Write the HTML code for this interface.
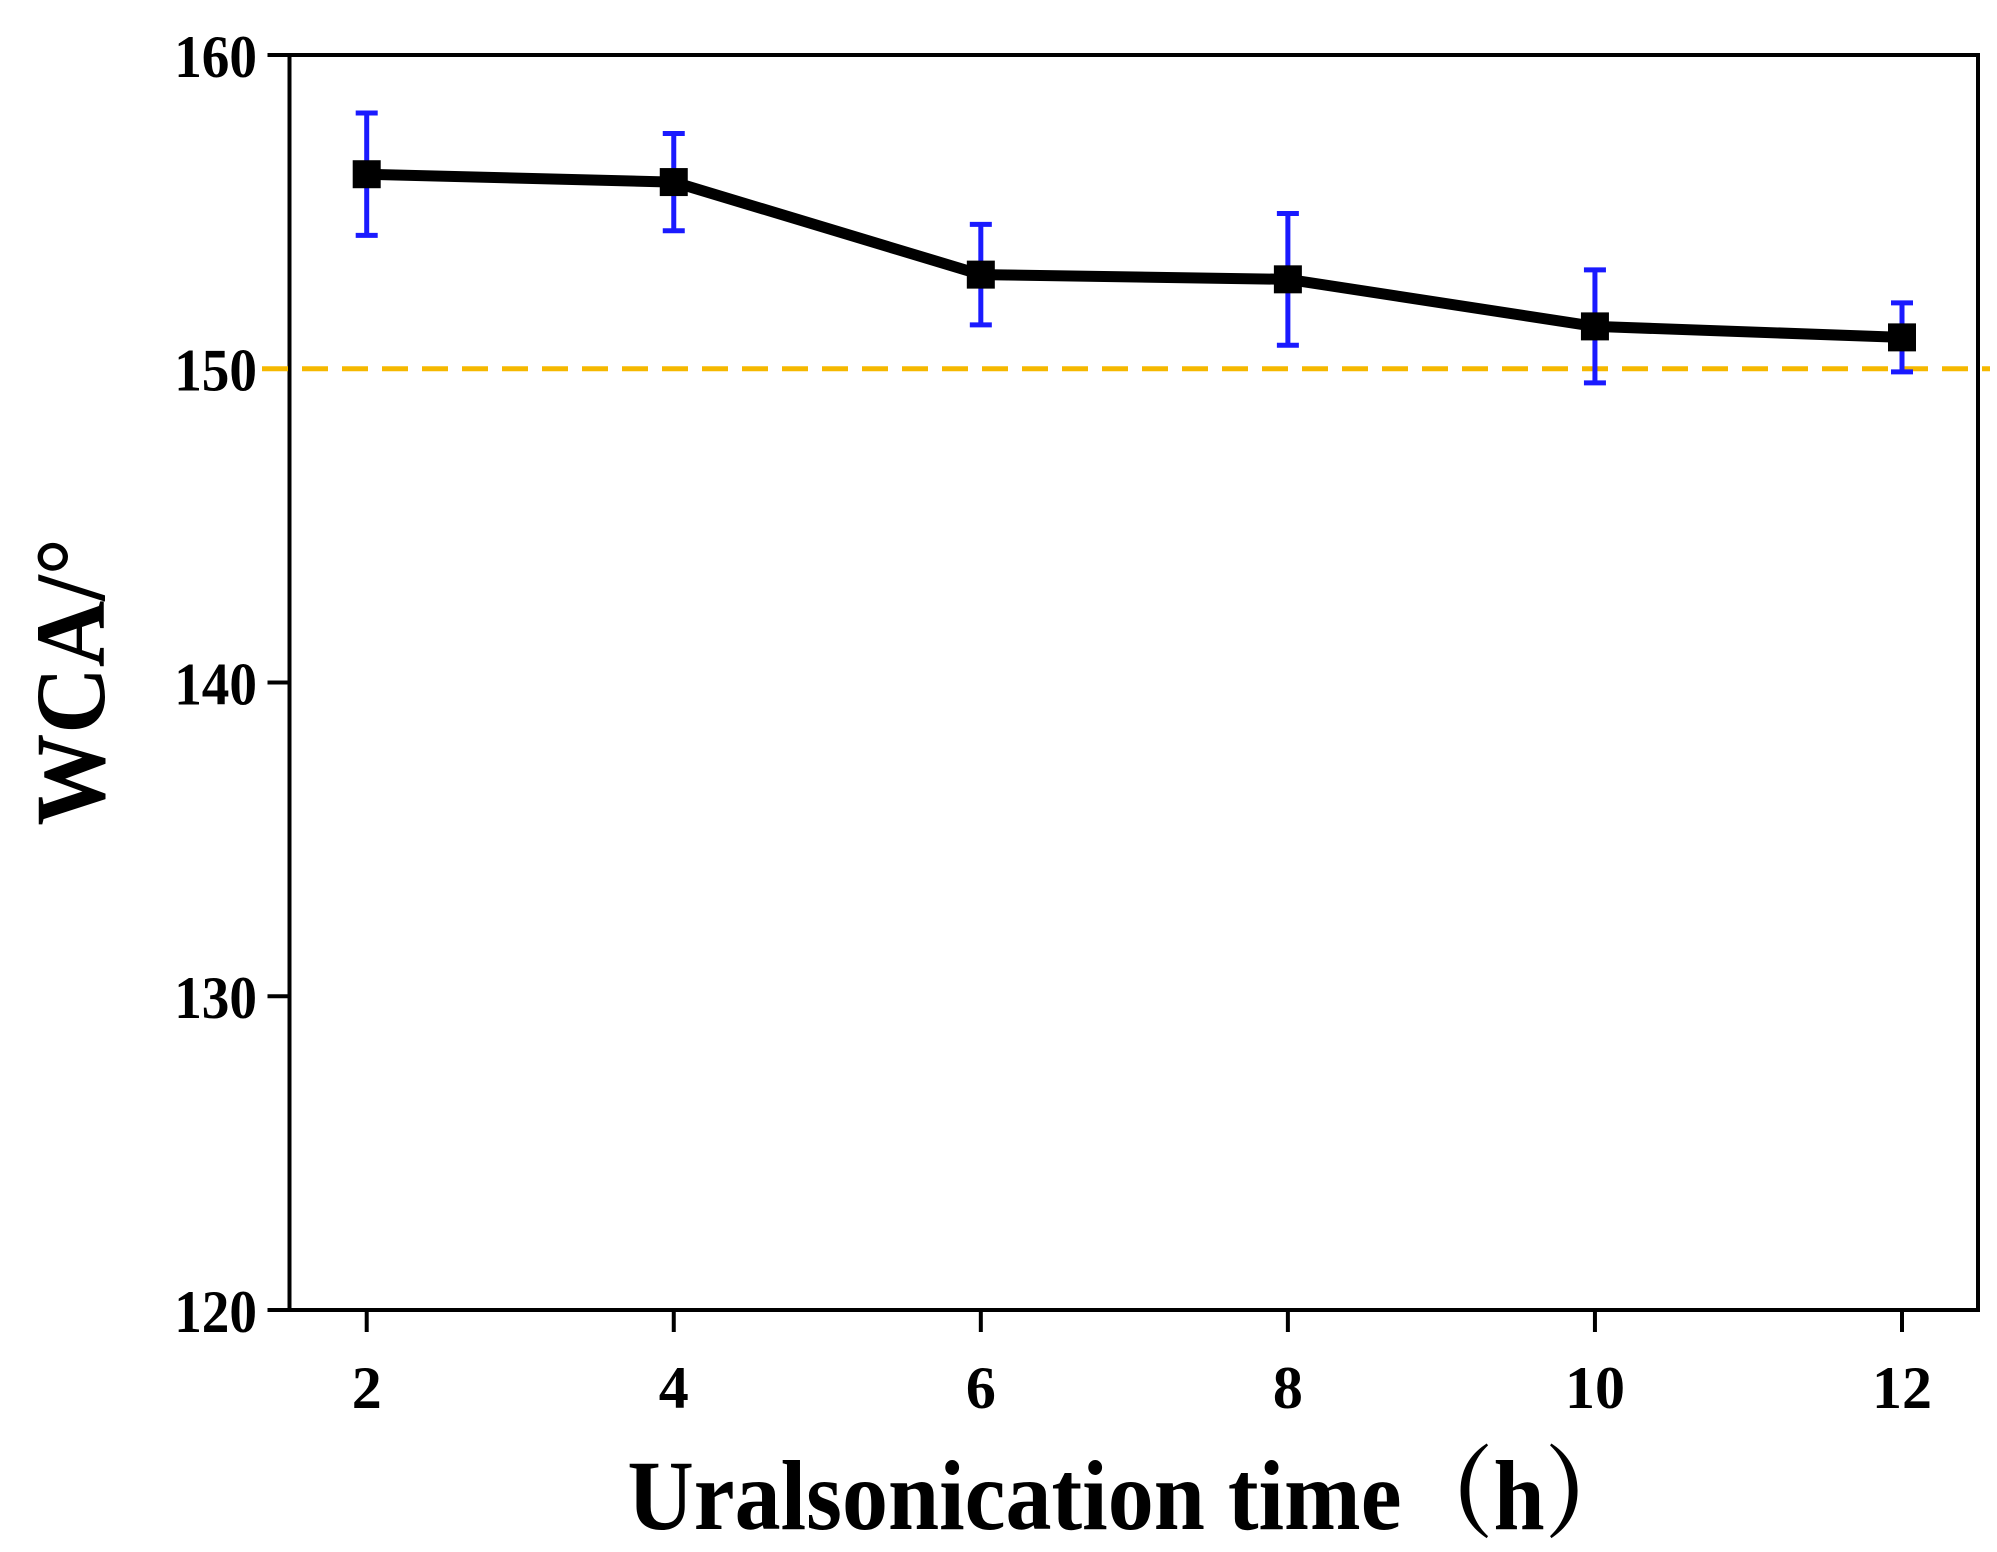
<!DOCTYPE html>
<html><head><meta charset="utf-8"><style>
html,body{margin:0;padding:0;background:#fff;}
svg{display:block;}
text{font-family:"Liberation Serif","Noto Serif CJK SC",serif;font-weight:bold;fill:#000;}
</style></head><body>
<svg id="chart" width="1997" height="1552" viewBox="0 0 1997 1552">
<g id="plot"></g>
</svg>
<script>
const categories = [2, 4, 6, 8, 10, 12];
const wcaValues = [156.2, 155.95, 153.0, 152.85, 151.35, 151.0];
const wcaErrors = [1.95, 1.55, 1.6, 2.1, 1.8, 1.1];
const yTicks = [120, 130, 140, 150, 160];
const xTicks = [2, 4, 6, 8, 10, 12];
const thresholdValue = [150];

const L = 289.5, R = 1978, T = 55, B = 1310;
const xScale = v => 366.7 + (v - 2) * (1902 - 366.7) / 10;
const yScale = v => B - (v - 120) * (B - T) / 40;
const NS = 'http://www.w3.org/2000/svg';
const g = document.getElementById('plot');
function mk(tag, attrs, parent) {
  const el = document.createElementNS(NS, tag);
  for (const k in attrs) el.setAttribute(k, attrs[k]);
  (parent || g).appendChild(el);
  return el;
}
let el;
el = mk('rect', {x: L, y: T, width: R - L, height: B - T, fill: 'none', stroke: '#000', 'stroke-width': 4});



yTicks.forEach(v => {
  const y = yScale(v);
  el = mk('line', {x1: L - 22, x2: L, y1: y, y2: y, stroke: '#000', 'stroke-width': 4});
  
  
  el = mk('text', {x: 257, y: y + 22, 'text-anchor': 'end', 'font-size': 60, transform: 'translate(' + 257 + ',0) scale(0.92,1) translate(' + (-257) + ',0)'});
  el.textContent = v;
  
  
});
xTicks.forEach(v => {
  const x = xScale(v);
  el = mk('line', {x1: x, x2: x, y1: B, y2: B + 22, stroke: '#000', 'stroke-width': 4});
  
  
  el = mk('text', {x: x, y: 1408, 'text-anchor': 'middle', 'font-size': 60});
  el.textContent = v;
  
  
});

el = mk('line', {x1: 262, x2: 1990, y1: yScale(thresholdValue[0]), y2: yScale(thresholdValue[0]), stroke: '#f5b800', 'stroke-width': 5, 'stroke-dasharray': '26 14'});



el = mk('polyline', {points: categories.map((c, i) => xScale(c) + ',' + yScale(wcaValues[i])).join(' '), fill: 'none', stroke: '#000', 'stroke-width': 11, 'stroke-linejoin': 'round'});



categories.forEach((c, i) => {
  const x = xScale(c), y1 = yScale(wcaValues[i] + wcaErrors[i]), y2 = yScale(wcaValues[i] - wcaErrors[i]);
  const eg = mk('g', {stroke: '#1a1aff', 'stroke-width': 5});
  
  
  mk('line', {x1: x, x2: x, y1: y1, y2: y2}, eg);
  mk('line', {x1: x - 11, x2: x + 11, y1: y1, y2: y1}, eg);
  mk('line', {x1: x - 11, x2: x + 11, y1: y2, y2: y2}, eg);
  el = mk('rect', {x: x - 14, y: yScale(wcaValues[i]) - 14, width: 28, height: 28, fill: '#000'});
  
  
});

el = mk('text', {x: 0, y: 0, 'text-anchor': 'middle', 'font-size': 100, transform: 'translate(1132,1529) scale(0.92,1)'});
el.textContent = 'Uralsonication time（h）';


el = mk('text', {x: 0, y: 0, 'text-anchor': 'middle', 'font-size': 100, transform: 'translate(104,682) rotate(-90) scale(0.92,1)'});
el.textContent = 'WCA/°';


</script>
</body></html>
